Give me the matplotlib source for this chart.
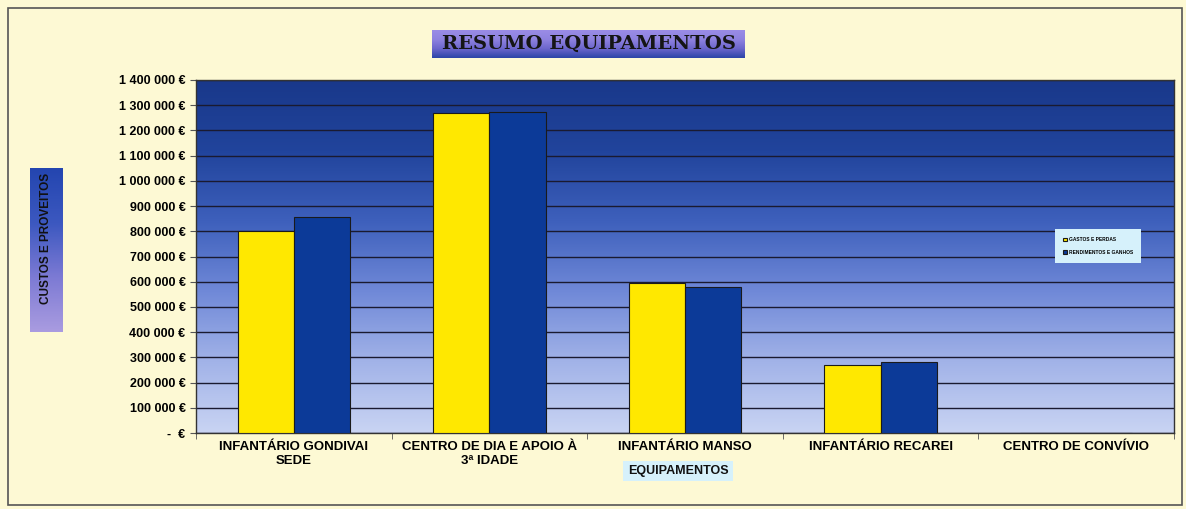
import matplotlib.pyplot as plt
import numpy as np
from matplotlib.colors import LinearSegmentedColormap
from matplotlib.patches import Rectangle
from matplotlib.ticker import FuncFormatter, FixedLocator

#####################################################################
# Data

categories = ["INFANTÁRIO GONDIVAI\nSEDE", "CENTRO DE DIA E APOIO À\n3ª IDADE",
              "INFANTÁRIO MANSO", "INFANTÁRIO RECAREI", "CENTRO DE CONVÍVIO"]
gastos = [800000, 1268000, 594000, 270000, 0]          # GASTOS E PERDAS
rendimentos = [855000, 1275000, 578000, 283000, 0]     # RENDIMENTOS E GANHOS
series_names = ["GASTOS E PERDAS", "RENDIMENTOS E GANHOS"]
yticks = np.arange(0, 1400001, 100000)

#####################################################################
# Figure

plt.rcParams['font.family'] = ['Liberation Sans', 'DejaVu Sans']
bg = '#fdf9d4'
W, H = 1186, 509
fig = plt.figure(figsize=(W/100, H/100), dpi=100, facecolor=bg)

def px_axes(x0, y0, x1, y1):
    # axes from pixel box (top-left origin)
    return fig.add_axes([x0/W, 1 - y1/H, (x1-x0)/W, (y1-y0)/H])

ax = px_axes(196, 80, 1174, 433)

# frame round the whole chart
fig.patches.append(Rectangle((8/W, 4/H), 1174/W, 497/H, transform=fig.transFigure,
                             fill=False, edgecolor='#555555', lw=1.2))

# plot area gradient
grad = LinearSegmentedColormap.from_list('bg', ['#c9d4f3', '#a2b3e8', '#7089d8', '#3e60bc', '#21449c', '#19388a'])
ax.imshow(np.linspace(0, 1, 256).reshape(-1, 1), cmap=grad, aspect='auto',
          extent=[-0.5, 4.5, 0, 1400000], origin='lower', zorder=0)

x = np.arange(len(categories))
w = 0.287
ax.bar(x - w/2, gastos, w, color='#ffe800', edgecolor='#1a1a1a', lw=0.8, zorder=3, label=series_names[0])
ax.bar(x + w/2, rendimentos, w, color='#0c3a98', edgecolor='#1a1a1a', lw=0.8, zorder=3, label=series_names[1])

ax.set_xlim(-0.5, 4.5)
ax.set_ylim(0, 1400000)
ax.set_yticks(yticks)
ax.yaxis.set_major_formatter(FuncFormatter(
    lambda v, p: "-  €" if v == 0 else "{:,.0f} €".format(v).replace(",", " ")))
ax.grid(axis='y', color='#1a1a30', lw=1.0, zorder=1)
for s in ax.spines.values():
    s.set_color('#333333')
    s.set_linewidth(1.0)

ax.set_xticks(x)
ax.set_xticklabels(categories, fontsize=9.5, fontweight='bold', va='top')
ax.tick_params(axis='x', length=0, pad=6)
ax.xaxis.set_minor_locator(FixedLocator(np.arange(-0.5, 4.6, 1)))
ax.tick_params(axis='x', which='minor', length=4, color='#555555')
ax.tick_params(axis='y', labelsize=9, length=4, color='#555555')
for t in ax.get_yticklabels():
    t.set_fontweight('bold')

# title box (gradient)
tax = px_axes(432, 30, 745, 58)
tcm = LinearSegmentedColormap.from_list('t', ['#2c45a8', '#6c66cc', '#8e82e0', '#9a8ce6'])
tax.imshow(np.linspace(0, 1, 64).reshape(-1, 1), cmap=tcm, aspect='auto', extent=[0, 1, 0, 1], origin='lower')
tax.set_xlim(0, 1); tax.set_ylim(0, 1)
tax.set_xticks([]); tax.set_yticks([])
for s in tax.spines.values():
    s.set_visible(False)
tax.text(0.5, 0.52, "RESUMO EQUIPAMENTOS", ha='center', va='center', fontsize=14,
         fontweight='bold', family='DejaVu Serif', color='#151515')

# y label box (gradient)
yax = px_axes(30, 168, 63, 332)
ycm = LinearSegmentedColormap.from_list('y', ['#a99be0', '#7c7ad4', '#3c58c0', '#2446b0'])
yax.imshow(np.linspace(0, 1, 64).reshape(-1, 1), cmap=ycm, aspect='auto', extent=[0, 1, 0, 1], origin='lower')
yax.set_xlim(0, 1); yax.set_ylim(0, 1)
yax.set_xticks([]); yax.set_yticks([])
for s in yax.spines.values():
    s.set_visible(False)
yax.text(0.5, 0.57, "CUSTOS E PROVEITOS", ha='center', va='center', rotation=90,
         fontsize=8.5, fontweight='bold', color='#111111')

# x label box
fig.text(678/W, 1 - 471/H, "EQUIPAMENTOS", ha='center', va='center',
         fontsize=9, fontweight='bold', color='#111111',
         bbox=dict(boxstyle='square,pad=0.35', facecolor='#d6f1fb', edgecolor='none'))

# legend
leg = ax.legend(loc='center left', bbox_to_anchor=(1053/W, 1 - 246/H), bbox_transform=fig.transFigure,
                fontsize=3.5, frameon=True, fancybox=False, handlelength=0.8, handleheight=0.8,
                borderpad=1.6, labelspacing=1.6, handletextpad=0.4)
leg.get_frame().set_facecolor('#d6f1fb')
leg.get_frame().set_edgecolor('none')
leg.get_frame().set_alpha(1)
for t in leg.get_texts():
    t.set_fontweight('bold')

fig.savefig('out.png', dpi=100, facecolor=bg)
